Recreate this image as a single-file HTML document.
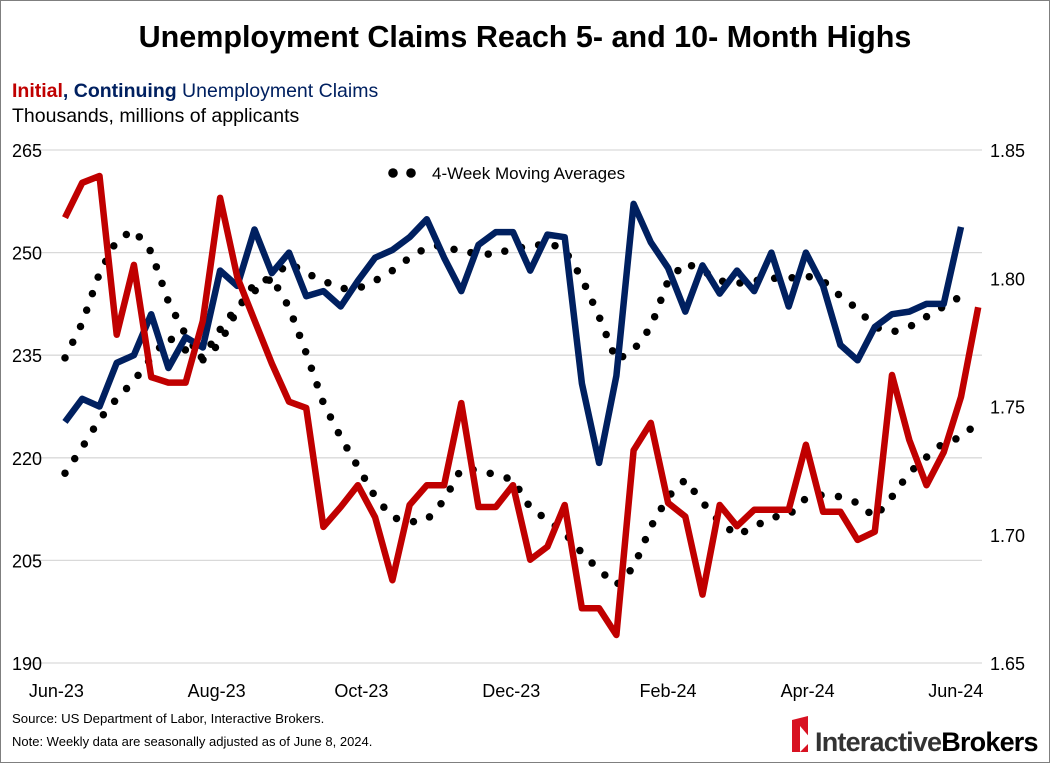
<!DOCTYPE html>
<html><head><meta charset="utf-8"><style>
body{margin:0;background:#fff;}
#wrap{position:relative;width:1050px;height:763px;overflow:hidden;font-family:"Liberation Sans",sans-serif;}
svg text{font-family:"Liberation Sans",sans-serif;}
</style></head><body>
<div id="wrap">
<svg id="chart" width="1050" height="763">
<rect x="0.5" y="0.5" width="1049" height="762" fill="#fff" stroke="#7f7f7f"/>
<text x="525" y="47" text-anchor="middle" font-size="30.5" font-weight="bold" fill="#000">Unemployment Claims Reach 5- and 10- Month Highs</text>
<text x="12" y="97" font-size="19.5"><tspan fill="#c00000" font-weight="bold">Initial</tspan><tspan fill="#002060" font-weight="bold">, Continuing</tspan><tspan fill="#002060"> Unemployment Claims</tspan></text>
<text x="12" y="122" font-size="19.5" fill="#000">Thousands, millions of applicants</text>
<g id="grid"></g>
<g id="series"></g>
<circle cx="393" cy="173" r="4.8" fill="#000"/>
<circle cx="411" cy="173" r="4.8" fill="#000"/>
<text x="432" y="179" font-size="17" fill="#000">4-Week Moving Averages</text>
<text x="12" y="723" font-size="13.2" fill="#000">Source: US Department of Labor, Interactive Brokers.</text>
<text x="12" y="746" font-size="13" fill="#000">Note: Weekly data are seasonally adjusted as of June 8, 2024.</text>
<g>
<path d="M792 720 L808 716 L808 752 L792 752 Z" fill="#d81222"/>
<path d="M800 726 L812 740 L800 752 Z" fill="#fff"/>
<text x="815" y="751" font-size="27" fill="#000" font-weight="bold" letter-spacing="-0.8"><tspan fill="#333">Interactive</tspan><tspan fill="#000">Brokers</tspan></text>
</g>
</svg>
</div>
<script>
const initial=[255.1,260.2,261.2,238,248.2,231.8,231,231,240,258,246.4,240.1,233.8,228.2,227.3,209.9,212.8,216,211.3,202.1,213.1,216,216,228,212.8,212.8,216,205.1,207,213.1,198,198,194.1,221.1,225.1,213.4,211.4,200,213.1,210,212.4,212.4,212.4,221.9,212.1,212.1,208,209.2,232.1,222.6,216,220.8,228.9,242];
const initialMA=[234.6,239.7,247,251.8,253.3,250.1,242.8,238,234.3,236.8,241.6,245.5,246.3,242,235.3,228,223,218.7,214.3,211.3,210.6,210.9,213.8,218.4,218.2,217.5,216.8,212.7,210.9,209,206.1,203.6,201.4,204,209.9,214.3,216.8,213.5,210.6,208.7,209.9,211.3,211.6,214.1,214.6,214.3,213.4,211.3,214.3,217.8,220.1,222.2,223,225.2];
const continuing=[1.744,1.753,1.750,1.767,1.770,1.786,1.765,1.777,1.773,1.803,1.797,1.819,1.802,1.810,1.793,1.795,1.789,1.799,1.808,1.811,1.816,1.823,1.808,1.795,1.813,1.818,1.818,1.803,1.817,1.816,1.759,1.728,1.762,1.829,1.814,1.804,1.787,1.805,1.794,1.803,1.795,1.810,1.789,1.810,1.797,1.774,1.768,1.781,1.786,1.787,1.790,1.790,1.820];
const continuingMA=[1.724,1.734,1.745,1.753,1.760,1.769,1.777,1.772,1.769,1.780,1.789,1.795,1.800,1.806,1.802,1.799,1.796,1.796,1.799,1.803,1.808,1.812,1.813,1.810,1.810,1.809,1.812,1.812,1.814,1.811,1.800,1.785,1.768,1.772,1.781,1.799,1.806,1.803,1.799,1.798,1.799,1.800,1.800,1.801,1.799,1.793,1.788,1.781,1.779,1.781,1.785,1.789,1.793];
const leftTicks=[265,250,235,220,205,190];
const rightTicks=["1.85","1.80","1.75","1.70","1.65"];
const xLabels=["Jun-23","Aug-23","Oct-23","Dec-23","Feb-24","Apr-24","Jun-24"];
const xLabelIdx=[-0.5,8.8,17.2,25.9,35,43.1,51.7];

const NS="http://www.w3.org/2000/svg";
const X0=65,STEP=17.23,TOP=150,BOT=663;
function x(i){return X0+i*STEP;}
function yL(v){return TOP+(265-v)/(265-190)*(BOT-TOP);}
function yR(v){return TOP+(1.85-v)/(1.85-1.65)*(BOT-TOP);}
const grid=document.getElementById('grid');
const ser=document.getElementById('series');
function mk(tag,attrs,parent){const e=document.createElementNS(NS,tag);for(const k in attrs)e.setAttribute(k,attrs[k]);parent.appendChild(e);return e;}
leftTicks.forEach(v=>{
  const l=mk('line',{x1:30,x2:982,y1:yL(v),y2:yL(v),stroke:'#d9d9d9','stroke-width':1.3},grid);
  
  
  const t=mk('text',{x:12,y:yL(v)+7,'font-size':18,fill:'#000'},grid);t.textContent=v;
  
  
});
rightTicks.forEach(v=>{
  const t=mk('text',{x:990,y:yR(+v)+7,'font-size':18,fill:'#000'},grid);t.textContent=v;
  
  
});
xLabels.forEach((s,i)=>{
  const t=mk('text',{x:x(xLabelIdx[i]),y:697,'font-size':18,fill:'#000','text-anchor':'middle'},grid);t.textContent=s;
  
  
});
function pts(arr,yf){return arr.map((v,i)=>x(i).toFixed(1)+','+yf(v).toFixed(1)).join(' ');}
let p;
p=mk('polyline',{points:pts(initialMA,yL),fill:'none',stroke:'#000','stroke-width':7.5,'stroke-linecap':'round','stroke-dasharray':'0 17.5'},ser);


p=mk('polyline',{points:pts(continuingMA,yR),fill:'none',stroke:'#000','stroke-width':7.5,'stroke-linecap':'round','stroke-dasharray':'0 17.5'},ser);


p=mk('polyline',{points:pts(continuing,yR),fill:'none',stroke:'#002060','stroke-width':6.5,'stroke-linejoin':'round'},ser);


p=mk('polyline',{points:pts(initial,yL),fill:'none',stroke:'#c00000','stroke-width':6.5,'stroke-linejoin':'round'},ser);


</script>
</body></html>
